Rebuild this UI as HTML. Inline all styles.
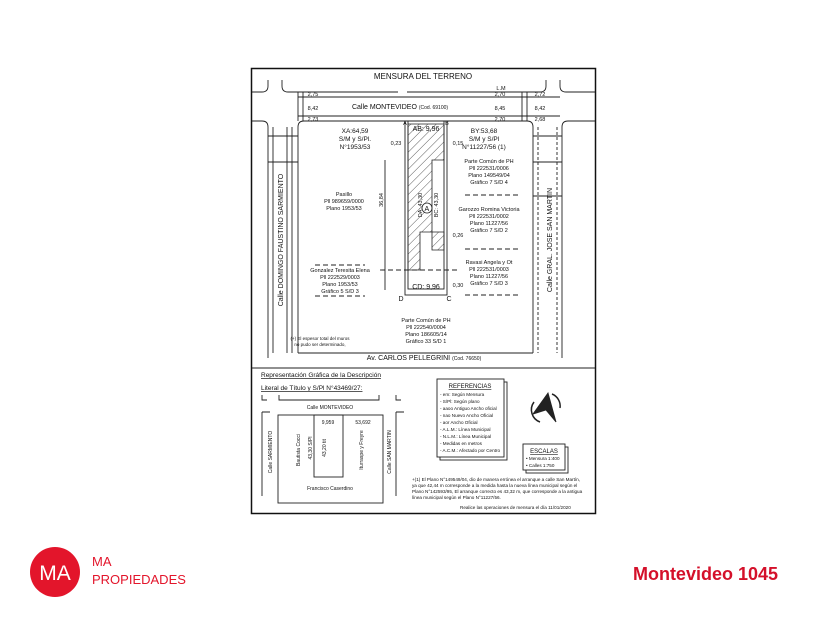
<!DOCTYPE html>
<html><head><meta charset="utf-8"><style>
html,body{margin:0;padding:0;background:#fff;width:840px;height:630px;overflow:hidden}
svg{position:absolute;left:0;top:0}
text{font-family:"Liberation Sans",sans-serif;fill:#111}
</style></head><body>
<svg width="840" height="630" viewBox="0 0 840 630">
<defs>
<pattern id="h" width="6" height="6" patternUnits="userSpaceOnUse" patternTransform="rotate(45)"><line x1="0" y1="0" x2="0" y2="6" stroke="#333" stroke-width="0.8"/></pattern>
</defs>
<rect x="251.5" y="68.5" width="344" height="445" fill="#fff" stroke="#111" stroke-width="1.5"/>
<g stroke="#222" stroke-width="0.9" fill="none">
<path d="M282 80 v6 q0 6 6 6 H398 M407 92 H540 q6 0 6-6 v-6 M560 80 v6 q0 6 6 6 H595"/>
<path d="M252 92 H262 q6 0 6-6 v-6"/>
<line x1="298" y1="97" x2="560" y2="97"/>
<line x1="298" y1="116" x2="560" y2="116"/>
<path d="M252 121 H262 q6 0 6 6 V353"/>
<path d="M298 353 V127 q0-6 6-6 H527 q6 0 6 6 V353"/>
<path d="M562 353 V127 q0-6 6-6 H595"/>
<line x1="298" y1="92" x2="298" y2="121"/><line x1="303" y1="92" x2="303" y2="121"/>
<line x1="522" y1="92" x2="522" y2="121"/><line x1="527" y1="92" x2="527" y2="121"/>
<line x1="273" y1="127" x2="273" y2="353"/><line x1="287" y1="127" x2="287" y2="353"/><line x1="292" y1="127" x2="292" y2="353"/>
<line x1="538" y1="127" x2="538" y2="353" stroke-dasharray="3,2"/><line x1="557" y1="127" x2="557" y2="353" stroke-dasharray="3,2"/>
<line x1="268" y1="136" x2="298" y2="136"/><line x1="268" y1="162" x2="298" y2="162"/>
<line x1="533" y1="136" x2="562" y2="136"/><line x1="533" y1="162" x2="562" y2="162"/><line x1="533" y1="196" x2="562" y2="196"/>
<path d="M298 353 H533" /><path d="M268 353 V358 M562 353 V358"/>
<line x1="252" y1="368" x2="595" y2="368"/>
<rect x="405" y="121" width="42" height="174"/>
<rect x="408" y="121" width="36" height="168"/>
<line x1="385" y1="160" x2="385" y2="290"/>
<line x1="380" y1="270" x2="460" y2="270" stroke-dasharray="5,3"/>
<line x1="315" y1="265" x2="365" y2="265" stroke-dasharray="5,3"/><line x1="315" y1="296" x2="365" y2="296" stroke-dasharray="5,3"/>
<line x1="465" y1="195" x2="520" y2="195" stroke-dasharray="5,3"/><line x1="465" y1="249" x2="520" y2="249" stroke-dasharray="5,3"/><line x1="465" y1="295" x2="520" y2="295" stroke-dasharray="5,3"/>
</g>
<path d="M408 124 H444 V160 H432 V232 H420 V270 H408 Z" fill="url(#h)" stroke="#222" stroke-width="0.8"/>
<path d="M432 232 H444 V250 H432 Z" fill="url(#h)" stroke="#222" stroke-width="0.8"/>
<circle cx="427" cy="208" r="5" fill="#fff" stroke="#222" stroke-width="0.8"/><text x="424.5" y="211" font-size="7">A</text>
<g font-size="8" text-anchor="middle">
<text x="423" y="79">MENSURA DEL TERRENO</text>
<text x="400" y="109" font-size="7">Calle MONTEVIDEO <tspan font-size="5">(Cod. 69100)</tspan></text>
<text x="424" y="360" font-size="7">Av. CARLOS PELLEGRINI <tspan font-size="5">(Cod. 76650)</tspan></text>
</g>
<g font-size="5.5" text-anchor="middle">
<text x="313" y="96">2,75</text><text x="313" y="110">8,42</text><text x="313" y="121">2,73</text>
<text x="500" y="96">2,70</text><text x="500" y="110">8,45</text><text x="500" y="121">2,70</text>
<text x="540" y="96">2,72</text><text x="540" y="110">8,42</text><text x="540" y="121">2,68</text>
<text x="501" y="90">L.M</text>
<text x="355" y="133" font-size="6.5">XA:64,59</text><text x="355" y="141" font-size="6.5">S/M y S/Pl.</text><text x="355" y="149" font-size="6.5">N°1953/53</text>
<text x="484" y="133" font-size="6.5">BY:53,68</text><text x="484" y="141" font-size="6.5">S/M y S/Pl</text><text x="484" y="149" font-size="6.5">N°11227/56 (1)</text>
<text x="426" y="131" font-size="7">AB: 9,96</text>
<text x="426" y="289" font-size="7">CD: 9,96</text>
<text x="405" y="125">A</text><text x="447" y="125">B</text><text x="401" y="301" font-size="7">D</text><text x="449" y="301" font-size="7">C</text>
<text x="344" y="196">Pasillo</text><text x="344" y="203">Pll 989659/0000</text><text x="344" y="210">Plano 1953/53</text>
<text x="340" y="272">Gonzalez Teresita Elena</text><text x="340" y="279">Pll 222529/0003</text><text x="340" y="286">Plano 1953/53</text><text x="340" y="293">Gráfico 5 S/D 3</text>
<text x="489" y="163">Parte Común de PH</text><text x="489" y="170">Pll 222531/0006</text><text x="489" y="177">Plano 149549/04</text><text x="489" y="184">Gráfico 7 S/D 4</text>
<text x="489" y="211">Garozzo Romina Victoria</text><text x="489" y="218">Pll 222531/0002</text><text x="489" y="225">Plano 11227/56</text><text x="489" y="232">Gráfico 7 S/D 2</text>
<text x="489" y="264">Ravasi Angela y Ot</text><text x="489" y="271">Pll 222531/0003</text><text x="489" y="278">Plano 11227/56</text><text x="489" y="285">Gráfico 7 S/D 3</text>
<text x="426" y="322">Parte Común de PH</text><text x="426" y="329">Pll 222540/0004</text><text x="426" y="336">Plano 186605/14</text><text x="426" y="343">Gráfico 33 S/D 1</text>
<text x="320" y="340" font-size="4.5">(+) El espesor total del muros</text><text x="320" y="346" font-size="4.5">no pudo ser determinado,</text>
<text x="396" y="145">0,23</text><text x="458" y="145">0,15</text><text x="458" y="237">0,26</text><text x="458" y="287">0,30</text>
<text transform="translate(422 205) rotate(-90)">DA: 43,30</text>
<text transform="translate(438 205) rotate(-90)">BC: 43,30</text>
<text transform="translate(383 200) rotate(-90)">36,84</text>
</g>
<g font-size="7" text-anchor="middle">
<text transform="translate(283 240) rotate(-90)">Calle DOMINGO FAUSTINO SARMIENTO</text>
<text transform="translate(552 240) rotate(-90)">Calle GRAL. JOSE SAN MARTIN</text>
</g>
<g font-size="6.5" text-decoration="underline">
<text x="261" y="377">Representación Gráfica de la Descripción</text>
<text x="261" y="390">Literal de Título y S/Pl N°43469/27:</text>
</g>
<g stroke="#222" stroke-width="0.9" fill="none">
<path d="M262 395 v5 h5 M279 395 v5 h100 v-5 M396 395 v5 h5"/>
<path d="M262 412 v84 M270 412 h-8 M396 412 v84 M396 412 h8"/>
<rect x="278" y="415" width="105" height="88"/>
<rect x="314" y="415" width="29" height="62"/>
<rect x="440" y="382" width="67" height="78"/><rect x="437" y="379" width="67" height="78" fill="#fff"/>
<rect x="526" y="447" width="42" height="26"/><rect x="523" y="444" width="42" height="26" fill="#fff"/>
<path d="M533 414 L548 393 L556 422 L546 410 Z" fill="#222"/><path d="M534 402 a13 13 0 0 0 6 20 M552 394 a13 13 0 0 1 8 14" stroke-width="1.5"/>
</g>
<g font-size="5" text-anchor="middle">
<text x="330" y="409">Calle MONTEVIDEO</text><text x="328" y="424">9,959</text><text x="363" y="424">53,692</text>
<text x="330" y="490">Francisco Caserdino</text>
<text transform="translate(272 452) rotate(-90)">Calle SARMIENTO</text>
<text transform="translate(391 452) rotate(-90)">Calle SAN MARTIN</text>
<text transform="translate(300 450) rotate(-90)">Bautista Cocci</text>
<text transform="translate(312 448) rotate(-90)">43,30 S/Pl</text>
<text transform="translate(326 448) rotate(-90)">43,20 tit</text>
<text transform="translate(363 450) rotate(-90)">Iturraspe y Freyre</text>
<text x="470" y="388" font-size="6" text-decoration="underline">REFERENCIAS</text>
<text x="544" y="453" font-size="6" text-decoration="underline">ESCALAS</text>
</g>
<g font-size="4.6">
<text x="440" y="396">- em: Según Mensura</text><text x="440" y="403">- S/Pl: Según plano</text><text x="440" y="410">- aaoo Antiguo Ancho oficial</text><text x="440" y="417">- nao Nuevo Ancho Oficial</text><text x="440" y="424">- aor Ancho Oficial</text><text x="440" y="431">- A.L.M.: Línea Municipal</text><text x="440" y="438">- N.L.M.: Línea Municipal</text><text x="440" y="445">- Medidas en metros</text><text x="440" y="452">- A.C.M.: Afectado por Centro</text>
<text x="526" y="460">• Mensura 1:400</text><text x="526" y="467">• Calles 1:750</text>
<text x="412" y="481">+(1) El Plano N°149549/04, dio de manera errónea el arranque a calle San Martín,</text>
<text x="412" y="487">ya que 42,44 m corresponde a la medida hasta la nueva línea municipal según el</text>
<text x="412" y="493">Plano N°142593/95, El arranque correcto es 43,32 m, que corresponde a la antigua</text>
<text x="412" y="499">línea municipal según el Plano N°11227/56.</text>
<text x="460" y="509">Realice las operaciones de mensura el día 11/01/2020</text>
</g>
<circle cx="55" cy="572" r="25" fill="#e3152b"/>
<text x="55" y="580" font-size="21" text-anchor="middle" style="fill:#fff">MA</text>
<text x="92" y="566" font-size="13" style="fill:#e3152b">MA</text>
<text x="92" y="584" font-size="13" style="fill:#e3152b">PROPIEDADES</text>
<text x="778" y="580" font-size="18" font-weight="bold" text-anchor="end" style="fill:#d4102a">Montevideo 1045</text>
</svg>
</body></html>
